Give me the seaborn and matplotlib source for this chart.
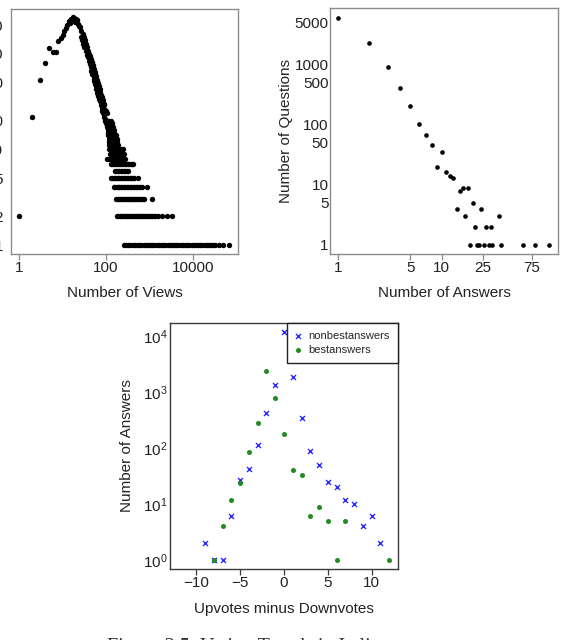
import matplotlib
matplotlib.use("Agg")
import matplotlib.pyplot as plt
from matplotlib.ticker import NullLocator
import pandas as pd
import seaborn as sns

# ---------------- 左: 閲覧数ごとの質問数 ----------------
views_top = [1, 2, 3, 4, 5, 6, 7, 8, 9, 10, 11, 12, 13, 14, 15, 16, 17, 18, 19, 20, 21, 22, 23, 24,
             25, 26, 27, 28, 29, 30, 31, 32, 33, 34, 35, 36, 37, 38, 39, 40, 41, 42, 43, 44, 45, 46,
             47, 48, 49, 50, 51, 52, 53, 54, 55, 56, 57, 58, 59, 60, 62, 63, 65, 66, 68, 69, 71, 72,
             74, 75, 77, 79, 80, 82, 84, 86, 88, 90, 92, 94, 96, 98, 100, 103, 105]
questions_top = [2, 22, 53, 81, 114, 105, 104, 137, 145, 157, 172, 185, 200, 221, 212, 232, 240, 236,
                 214, 233, 228, 224, 206, 196,
                 190, 150, 172, 140, 160, 128, 150, 118, 138, 106, 126, 98, 118, 92, 108, 84, 100,
                 78, 94, 72, 88, 66, 82, 62, 77, 60,
                 74, 55, 69, 52, 64, 48, 61, 46, 58, 43,
                 53, 39, 49, 36, 46, 34, 43, 32, 40, 29, 37, 27, 35, 25, 33, 24, 30, 22, 29, 21, 26,
                 20, 25, 18, 24]

# 質問数が小さいところは横に並ぶ帯になる
band_questions = [20, 19, 18, 17, 16, 15, 14, 13, 12, 11, 10, 9, 8, 7, 6, 5, 4, 3, 2, 1]
band_views = [
    [96, 104, 112, 120, 130],
    [100, 108, 117, 126, 136],
    [103, 112, 121, 131],
    [106, 115, 125, 135, 146],
    [109, 118, 128, 139, 150],
    [112, 122, 132, 143, 155],
    [114, 124, 135, 146, 158, 168],
    [118, 128, 139, 151, 163, 176],
    [120, 130, 141, 153, 166, 180],
    [118, 128, 139, 151, 164, 178, 193],
    [115, 124, 134, 145, 157, 170, 184, 199, 215, 232, 248],
    [122, 132, 143, 155, 168, 182, 197, 213, 230, 255],
    [108, 117, 127, 137, 148, 160, 173, 187, 202, 218, 236, 255, 275],
    [132, 143, 155, 168, 182, 197, 213, 230, 249, 269, 291, 315, 341, 369, 399, 425],
    [158, 171, 185, 200, 216, 234, 253, 274, 296, 312],
    [128, 139, 150, 162, 175, 189, 204, 221, 239, 258, 279, 302, 326, 352, 381, 412, 440, 545],
    [150, 162, 175, 189, 204, 221, 239, 258, 279, 302, 326, 352, 381, 412, 445, 481, 520, 562,
     608, 660, 860],
    [172, 186, 201, 217, 235, 254, 275, 297, 321, 347, 375, 405, 438, 474, 512, 553, 598, 646,
     698, 760, 1170],
    [178, 192, 208, 225, 243, 263, 284, 307, 332, 359, 388, 419, 453, 490, 530, 573, 619, 669,
     723, 782, 845, 913, 987, 1067, 1153, 1250, 1340, 1600, 1900, 2480, 3220],
    [260, 290, 325, 365, 410, 460, 515, 580, 650, 730, 820, 920, 1030, 1160, 1300, 1460, 1640,
     1840, 2070, 2320, 2600, 2920, 3280, 3680, 4130, 4630, 5200, 5830, 6540, 7340, 8240, 9240,
     10400, 11600, 13100, 14600, 16400, 18400, 20700, 23200, 26000, 29200, 32800, 40000, 50000,
     68000],
]
views_ticks = [1, 100, 10000]
views_yticks = [1, 2, 5, 10, 20, 50, 100, 200]

# ---------------- 右: 回答数ごとの質問数 ----------------
answers = [1, 2, 3, 4, 5, 6, 7, 8, 9, 10, 11, 12, 13, 14, 15, 16, 17, 18, 20, 21, 24, 27, 30, 36,
           19, 22, 23, 26, 29, 31, 38, 62, 80, 109]
questions_by_answers = [5970, 2300, 895, 400, 203, 103, 67, 45, 20, 35, 16, 14, 13, 4, 8, 9, 3, 9,
                        5, 2, 4, 2, 2, 3, 1, 1, 1, 1, 1, 1, 1, 1, 1, 1]
answers_ticks = [1, 5, 10, 25, 75]
answers_yticks = [1, 5, 10, 50, 100, 500, 1000, 5000]

# ---------------- 下: 投票スコアごとの回答数 ----------------
votes_nonbest = [-9, -8, -7, -6, -5, -4, -3, -2, -1, 0, 1, 2, 3, 4, 5, 6, 7, 8, 9, 10, 11]
count_nonbest = [2, 1, 1, 6, 27, 43, 113, 420, 1350, 11500, 1870, 340, 89, 49, 25, 20, 12, 10, 4,
                 6, 2]
votes_best = [-8, -7, -6, -5, -4, -3, -2, -1, 0, 1, 2, 3, 4, 5, 6, 7, 12]
count_best = [1, 4, 12, 24, 85, 283, 2370, 775, 180, 40, 33, 6, 9, 5, 1, 5, 1]
votes_ticks = [-10, -5, 0, 5, 10]
answers_count_ticks = [1, 10, 100, 1000, 10000]

sns.set_theme(style="white")
plt.rcParams['font.family'] = ['Liberation Sans', 'DejaVu Sans']
plt.rcParams['mathtext.fontset'] = 'custom'
plt.rcParams['mathtext.rm'] = 'Liberation Sans'
plt.rcParams['mathtext.it'] = 'Liberation Sans'

W, H = 561, 640
fig = plt.figure(figsize=(W / 100, H / 100), dpi=100)


def px_axes(x0, y0, x1, y1):
    return fig.add_axes([x0 / W, 1 - y1 / H, (x1 - x0) / W, (y1 - y0) / H])


def style_axes(ax, frame_color, ypad):
    for sp in ax.spines.values():
        sp.set_color(frame_color)
        sp.set_linewidth(1.0)
    ax.tick_params(axis='x', length=4.3, width=0.9, color=frame_color, pad=1.0, labelsize=11,
                   labelcolor='#222222', bottom=True, direction='out')
    ax.tick_params(axis='y', length=0, pad=ypad, labelsize=11, labelcolor='#222222', left=True)
    ax.xaxis.set_minor_locator(NullLocator())
    ax.yaxis.set_minor_locator(NullLocator())


# 左パネル
left_df = pd.DataFrame({'views': views_top, 'questions': questions_top})
band_df = pd.DataFrame({
    'views': [v for vs in band_views for v in vs],
    'questions': [q for q, vs in zip(band_questions, band_views) for _ in vs],
})
left_df = pd.concat([left_df, band_df], ignore_index=True)

ax1 = px_axes(11, 9, 238, 254)
sns.scatterplot(data=left_df, x='views', y='questions', ax=ax1, color='black', s=15,
                linewidth=0, legend=False)
ax1.set_xscale('log')
ax1.set_yscale('log')
ax1.set_xlim(10 ** -0.184, 10 ** 5.034)
ax1.set_ylim(10 ** -0.094, 10 ** 2.469)
ax1.set_xticks(views_ticks)
ax1.set_xticklabels([str(t) for t in views_ticks])
ax1.set_yticks(views_yticks)
ax1.set_yticklabels([str(t) for t in views_yticks])
style_axes(ax1, '#8c8c8c', 5.8)
ax1.set_xlabel('Number of Views', fontsize=11, color='#222222')
ax1.set_ylabel('')
ax1.xaxis.label.set_va('center')
ax1.xaxis.set_label_coords(0.5, -0.159)

# 右パネル
right_df = pd.DataFrame({'answers': answers, 'questions': questions_by_answers})
ax2 = px_axes(330, 8, 558, 254)
sns.scatterplot(data=right_df, x='answers', y='questions', ax=ax2, color='black', s=11,
                linewidth=0, legend=False)
ax2.set_xscale('log')
ax2.set_yscale('log')
ax2.set_xlim(10 ** -0.080, 10 ** 2.127)
ax2.set_ylim(10 ** -0.150, 10 ** 3.937)
ax2.set_xticks(answers_ticks)
ax2.set_xticklabels([str(t) for t in answers_ticks])
ax2.set_yticks(answers_yticks)
ax2.set_yticklabels([str(t) for t in answers_yticks])
style_axes(ax2, '#8c8c8c', 1.0)
ax2.set_xlabel('Number of Answers', fontsize=11, color='#222222')
ax2.set_ylabel('Number of Questions', fontsize=11, color='#222222')
ax2.xaxis.label.set_va('center')
ax2.xaxis.set_label_coords(0.5, -0.159)
ax2.yaxis.label.set_va('center')
ax2.yaxis.set_label_coords(-0.193, 0.5)

# 下パネル
ax3 = px_axes(170, 323, 398, 569)
sns.scatterplot(x=votes_nonbest, y=count_nonbest, ax=ax3, marker='x', color='#2b2bff', s=13,
                linewidth=1.0, label='nonbestanswers')
sns.scatterplot(x=votes_best, y=count_best, ax=ax3, marker='o', color='#228b22', s=13,
                linewidth=0, label='bestanswers')
ax3.set_yscale('log')
ax3.set_xlim(-13, 13)
ax3.set_ylim(10 ** -0.16, 10 ** 4.23)
ax3.set_xticks(votes_ticks)
ax3.set_xticklabels(['\u2212' + str(-t) if t < 0 else str(t) for t in votes_ticks])
ax3.set_yticks(answers_count_ticks)
ax3.set_yticklabels([r'$\mathregular{10^{%d}}$' % i for i in range(len(answers_count_ticks))])
style_axes(ax3, '#3a3a3a', 1.5)
ax3.set_xlabel('Upvotes minus Downvotes', fontsize=11, color='#222222')
ax3.set_ylabel('Number of Answers', fontsize=11, color='#222222')
ax3.xaxis.label.set_va('center')
ax3.xaxis.set_label_coords(0.5, -0.163)
ax3.yaxis.label.set_va('center')
ax3.yaxis.set_label_coords(-0.190, 0.5)
leg = ax3.legend(loc='upper right', borderaxespad=0, fontsize=8, frameon=True, fancybox=False,
                 framealpha=1, edgecolor='#222222', borderpad=0.75, labelspacing=0.3,
                 handlelength=0.6, handletextpad=0.6)
leg.get_frame().set_linewidth(1.0)

# 図のキャプション（下端で切れている）
fig.text(107 / W, 1 - 638 / H, 'Figure 3.5: Voting Trends in Italian', ha='left', va='top',
         fontsize=14.5, family=['Liberation Serif', 'DejaVu Serif'], color='#333333')

fig.savefig('out.png', dpi=100)
plt.close('all')
